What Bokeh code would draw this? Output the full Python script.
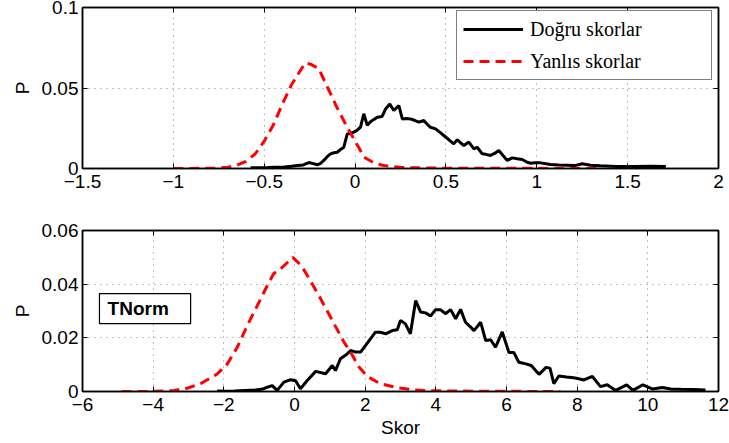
from bokeh.plotting import figure
from bokeh.models import (LinearAxis, FixedTicker, Range1d, Legend, LegendItem,
                          BoxAnnotation, Label)
from bokeh.layouts import column
from bokeh.embed import file_html
from bokeh.resources import INLINE

# ---- score distributions, raw scores (upper panel) ----
raw_true_x = [-0.575, -0.53, -0.48, -0.44, -0.39, -0.35, -0.318, -0.285, -0.254, -0.23,
              -0.208, -0.19, -0.172, -0.155, -0.135, -0.117, -0.098, -0.08, -0.062, -0.043,
              -0.025, -0.007, 0.012, 0.030, 0.048, 0.067, 0.085, 0.104, 0.122, 0.149,
              0.168, 0.191, 0.213, 0.241, 0.260, 0.283, 0.305, 0.33, 0.351, 0.378,
              0.397, 0.415, 0.443, 0.466, 0.488, 0.515, 0.543, 0.562, 0.580, 0.599,
              0.626, 0.654, 0.672, 0.700, 0.72, 0.745, 0.77, 0.791, 0.815, 0.837,
              0.865, 0.892, 0.920, 0.947, 0.966, 0.993, 1.02, 1.05, 1.076, 1.12,
              1.168, 1.21, 1.25, 1.296, 1.35, 1.44, 1.53, 1.626, 1.71]
raw_true_p = [0.0005, 0.0004, 0.0006, 0.0008, 0.0010, 0.0014, 0.0019, 0.0022, 0.0037, 0.0030,
              0.0023, 0.0032, 0.0050, 0.0072, 0.0091, 0.0098, 0.0101, 0.0118, 0.0132, 0.0215,
              0.0218, 0.0226, 0.0238, 0.0257, 0.0340, 0.0268, 0.0290, 0.0305, 0.0319, 0.0323,
              0.0370, 0.0401, 0.0360, 0.0391, 0.0308, 0.0310, 0.0308, 0.0298, 0.0288, 0.0298,
              0.0275, 0.0256, 0.0246, 0.0226, 0.0205, 0.0180, 0.0153, 0.0178, 0.0160, 0.0143,
              0.0164, 0.0122, 0.0132, 0.0091, 0.0088, 0.0081, 0.0095, 0.0112, 0.0080, 0.0050,
              0.0066, 0.0060, 0.0056, 0.0039, 0.0033, 0.0036, 0.0035, 0.0030, 0.0025, 0.0022,
              0.0020, 0.0018, 0.0029, 0.0020, 0.0017, 0.0013, 0.0012, 0.0014, 0.0012]

raw_false_x = [-1.00, -0.95, -0.90, -0.85, -0.80, -0.75, -0.70, -0.65, -0.60, -0.55,
               -0.50, -0.45, -0.40, -0.35, -0.30, -0.275, -0.245, -0.20, -0.15, -0.10,
               -0.05, 0.00, 0.05, 0.10, 0.15, 0.20, 0.25, 0.30, 0.35, 0.40,
               0.50, 0.60, 0.70, 0.80, 0.90, 1.00, 1.10, 1.20, 1.33]
raw_false_p = [0.0000, 0.0000, 0.0000, 0.0001, 0.0001, 0.0003, 0.0008, 0.0020, 0.0045, 0.0090,
               0.0170, 0.0270, 0.0400, 0.0520, 0.0610, 0.0655, 0.0648, 0.0620, 0.0500, 0.0380,
               0.0270, 0.0170, 0.0070, 0.0037, 0.0020, 0.0012, 0.0008, 0.0005, 0.0004, 0.0003,
               0.0002, 0.0002, 0.0001, 0.0001, 0.0001, 0.0001, 0.0000, 0.0000, 0.0000]

# ---- score distributions after TNorm (lower panel) ----
tn_true_x = [-2.19, -2.0, -1.7, -1.4, -1.1, -0.9, -0.77, -0.63, -0.49, -0.30,
             -0.11, 0.03, 0.17, 0.36, 0.60, 0.88, 1.07, 1.16, 1.30, 1.49,
             1.59, 1.73, 1.87, 2.06, 2.29, 2.43, 2.58, 2.77, 2.91, 3.00,
             3.14, 3.28, 3.43, 3.57, 3.71, 3.85, 3.99, 4.13, 4.27, 4.42,
             4.56, 4.70, 4.84, 4.97, 5.08, 5.27, 5.41, 5.55, 5.69, 5.88,
             6.07, 6.21, 6.35, 6.55, 6.70, 6.92, 7.12, 7.23, 7.34, 7.48,
             7.70, 7.95, 8.19, 8.43, 8.66, 8.85, 9.09, 9.40, 9.58, 9.86,
             10.14, 10.41, 10.65, 10.95, 11.30, 11.63]
tn_true_p = [0.0002, 0.0001, 0.0002, 0.0004, 0.0006, 0.0009, 0.0016, 0.0022, 0.0004, 0.0035,
             0.0044, 0.0040, 0.0010, 0.0041, 0.0075, 0.0066, 0.0097, 0.0078, 0.0122, 0.0140,
             0.0153, 0.0147, 0.0147, 0.0180, 0.0221, 0.0221, 0.0215, 0.0227, 0.0230, 0.0265,
             0.0252, 0.0215, 0.0339, 0.0296, 0.0293, 0.0281, 0.0305, 0.0305, 0.0290, 0.0305,
             0.0271, 0.0306, 0.0258, 0.0242, 0.0227, 0.0258, 0.0190, 0.0193, 0.0165, 0.0222,
             0.0145, 0.0145, 0.0109, 0.0103, 0.0097, 0.0064, 0.0090, 0.0087, 0.0029, 0.0058,
             0.0054, 0.0050, 0.0043, 0.0056, 0.0018, 0.0025, 0.0004, 0.0025, 0.0004, 0.0025,
             0.0009, 0.0015, 0.0009, 0.0008, 0.0007, 0.0006]

tn_false_x = [-4.90, -4.60, -4.30, -4.00, -3.70, -3.40, -3.04, -2.66, -2.19, -1.90,
              -1.62, -1.34, -1.06, -0.77, -0.59, -0.35, -0.05, 0.20, 0.45, 0.72,
              1.11, 1.40, 1.59, 1.82, 2.06, 2.43, 2.91, 3.38, 3.90, 4.50,
              5.20, 6.00, 6.80, 7.53]
tn_false_p = [0.0000, 0.0000, 0.0000, 0.0001, 0.0002, 0.0004, 0.0012, 0.0029, 0.0065, 0.0103,
              0.0165, 0.0245, 0.0318, 0.0395, 0.0439, 0.0462, 0.0500, 0.0468, 0.0413, 0.0350,
              0.0255, 0.0184, 0.0146, 0.0092, 0.0056, 0.0029, 0.0014, 0.0006, 0.0003, 0.0002,
              0.0001, 0.0001, 0.0000, 0.0000]

# ---- axis ticks and labels ----
raw_xticks = [-1.5, -1.0, -0.5, 0.0, 0.5, 1.0, 1.5, 2.0]
raw_xlabels = ["\u22121.5", "\u22121", "\u22120.5", "0", "0.5", "1", "1.5", "2"]
raw_yticks = [0.0, 0.05, 0.1]
raw_ylabels = ["0", "0.05", "0.1"]
tn_xticks = [-6, -4, -2, 0, 2, 4, 6, 8, 10, 12]
tn_xlabels = ["\u22126", "\u22124", "\u22122", "0", "2", "4", "6", "8", "10", "12"]
tn_yticks = [0.0, 0.02, 0.04, 0.06]
tn_ylabels = ["0", "0.02", "0.04", "0.06"]

legend_labels = ["Do\u011fru skorlar", "Yanl\u0131s skorlar"]
x_title = "Skor"
y_title = "P"

SANS = "Liberation Sans"
SERIF = "Liberation Serif"
TICK_PX = "19px"


def style_axes(p, xticks, xlabels, yticks, ylabels, xtitle=None):
    xt = FixedTicker(ticks=xticks)
    yt = FixedTicker(ticks=yticks)
    for ax in (p.xaxis[0], p.yaxis[0]):
        ax.major_tick_in = 5
        ax.major_tick_out = 0
        ax.minor_tick_in = 0
        ax.minor_tick_out = 0
        ax.axis_line_color = "black"
        ax.axis_line_width = 1.5
        ax.major_tick_line_color = "black"
        ax.major_label_text_font = SANS
        ax.major_label_text_font_size = TICK_PX
        ax.major_label_text_color = "black"
        ax.axis_label_text_font = SANS
        ax.axis_label_text_font_size = TICK_PX
        ax.axis_label_text_font_style = "normal"
        ax.axis_label_text_color = "black"
    p.xaxis[0].ticker = xt
    p.yaxis[0].ticker = yt
    p.xaxis[0].major_label_overrides = dict(zip(xticks, xlabels))
    p.yaxis[0].major_label_overrides = dict(zip(yticks, ylabels))
    p.xaxis[0].major_label_standoff = 6
    p.yaxis[0].major_label_standoff = 4
    p.yaxis[0].axis_label = y_title
    p.yaxis[0].axis_label_standoff = 6
    if xtitle:
        p.xaxis[0].axis_label = xtitle
        p.xaxis[0].axis_label_standoff = 3

    # tick marks (without labels) on the top and right edges as well
    for side, tk, ticks in (("above", xt, xticks), ("right", yt, yticks)):
        ax = LinearAxis(ticker=tk)
        ax.major_tick_in = 5
        ax.major_tick_out = 0
        ax.minor_tick_in = 0
        ax.minor_tick_out = 0
        ax.axis_line_color = "black"
        ax.axis_line_width = 1.5
        ax.major_label_overrides = {t: "" for t in ticks}
        ax.major_label_standoff = 0
        ax.major_label_text_font_size = TICK_PX
        p.add_layout(ax, side)

    p.xgrid.ticker = xt
    p.ygrid.ticker = yt
    for g in (p.xgrid[0], p.ygrid[0]):
        g.grid_line_color = "#808080"
        g.grid_line_dash = "1 5"
        g.grid_line_width = 1
    p.outline_line_color = "black"
    p.outline_line_width = 1.5
    p.background_fill_color = "white"
    p.border_fill_color = "white"


# ---- upper panel: raw scores ----
p1 = figure(width=729, height=215, x_range=Range1d(-1.5, 2), y_range=Range1d(0, 0.1),
            output_backend="svg", toolbar_location=None,
            min_border_left=82, min_border_right=11, min_border_top=7, min_border_bottom=47)
style_axes(p1, raw_xticks, raw_xlabels, raw_yticks, raw_ylabels)
r_true = p1.line(raw_true_x, raw_true_p, line_color="black", line_width=3)
r_false = p1.line(raw_false_x, raw_false_p, line_color="red", line_width=3, line_dash="10 6")

legend = Legend(items=[LegendItem(label=legend_labels[0], renderers=[r_true]),
                       LegendItem(label=legend_labels[1], renderers=[r_false])],
                location=(374, 88), margin=0, padding=6, spacing=8,
                glyph_width=60, glyph_height=24, label_height=24, label_width=175,
                label_standoff=7, border_line_color="black", border_line_width=1.2,
                background_fill_color="white", background_fill_alpha=1.0,
                label_text_font=SERIF, label_text_font_size="20px",
                label_text_color="black", label_text_baseline="middle")
p1.add_layout(legend)

# ---- lower panel: TNorm scores ----
p2 = figure(width=729, height=228, x_range=Range1d(-6, 12), y_range=Range1d(0, 0.06),
            output_backend="svg", toolbar_location=None,
            min_border_left=82, min_border_right=11, min_border_top=15, min_border_bottom=52)
style_axes(p2, tn_xticks, tn_xlabels, tn_yticks, tn_ylabels, xtitle=x_title)
p2.line(tn_true_x, tn_true_p, line_color="black", line_width=3)
p2.line(tn_false_x, tn_false_p, line_color="red", line_width=3, line_dash="10 6")

p2.add_layout(BoxAnnotation(left=-5.52, right=-2.94, bottom=0.0253, top=0.0365,
                            fill_color="white", fill_alpha=1.0,
                            line_color="black", line_width=1.2, line_alpha=1.0))
p2.add_layout(Label(x=-5.29, y=0.0309, text="TNorm", text_font=SANS,
                    text_font_size="19px", text_font_style="bold",
                    text_color="black", text_baseline="middle"))

layout = column(p1, p2, spacing=0)
open("out.html", "w").write(file_html(layout, INLINE))
